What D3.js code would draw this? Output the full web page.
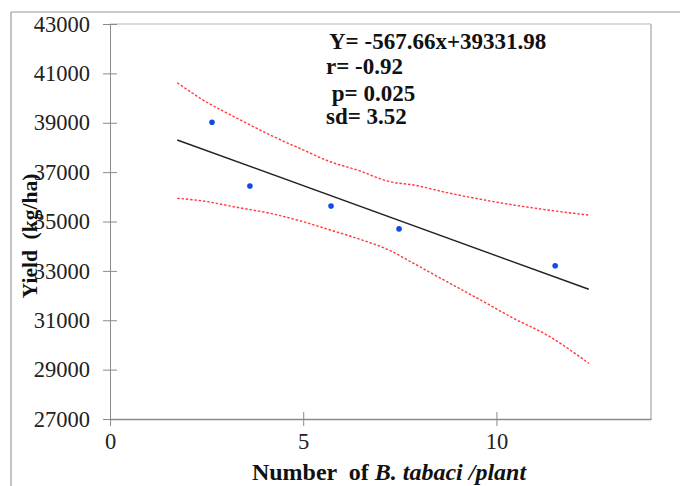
<!DOCTYPE html>
<html>
<head>
<meta charset="utf-8">
<script src="https://cdn.jsdelivr.net/npm/d3@7"></script>
<style>
  html, body { margin: 0; padding: 0; background: #fff; }
  svg { display: block; }
  text { font-family: "Liberation Serif", "Times New Roman", serif; }
</style>
</head>
<body>
<svg id="chart" width="680" height="486"></svg>
<script>
// ---- data ----
const pointX = [2.64, 3.62, 5.72, 7.48, 11.52];
const pointY = [39020, 36440, 35630, 34700, 33210];

const fitX = [1.74, 12.39];
const fitY = [38300, 32255];

const bandX     = [1.74, 2.41, 3.28, 4.15, 5.00, 5.70, 6.39, 7.25, 7.85, 8.72, 9.59, 10.44, 11.31, 12.39];
const upperY    = [40620, 39920, 39190, 38500, 37900, 37420, 37090, 36610, 36480, 36170, 35900, 35670, 35470, 35260];
const lowerY    = [35940, 35830, 35575, 35330, 34990, 34655, 34320, 33820, 33310, 32560, 31820, 31080, 30400, 29255];

const xTicks = [0, 5, 10];
const yTicks = [27000, 29000, 31000, 33000, 35000, 37000, 39000, 41000, 43000];

const annotations = ["Y= -567.66x+39331.98", "r= -0.92", " p= 0.025", "sd= 3.52"];

// ---- layout ----
const svg = d3.select("#chart");
const L = 110, T = 24, R = 651, B = 419;

const x = d3.scaleLinear().domain([0, 14]).range([L, R]);
const y = d3.scaleLinear().domain([27000, 43000]).range([B, T]);

// outer frame
svg.append("line").attr("x1", 11).attr("x2", 11).attr("y1", 12).attr("y2", 486)
  .attr("stroke", "#9a9a9a").attr("stroke-width", 1.2);
svg.append("line").attr("x1", 11).attr("x2", 680).attr("y1", 12).attr("y2", 12)
  .attr("stroke", "#9a9a9a").attr("stroke-width", 1.2);

// plot area border (top & right)
svg.append("line").attr("x1", L).attr("x2", R).attr("y1", T).attr("y2", T)
  .attr("stroke", "#b5b5b5").attr("stroke-width", 1);
svg.append("line").attr("x1", R).attr("x2", R).attr("y1", T).attr("y2", B)
  .attr("stroke", "#c8c8c8").attr("stroke-width", 2);

// y axis
const yAxis = d3.axisLeft(y).tickValues(yTicks).tickFormat(d3.format("d"))
  .tickSizeInner(7).tickSizeOuter(0).tickPadding(13);
const gy = svg.append("g").attr("transform", `translate(${L},0)`).call(yAxis);
gy.select(".domain").attr("stroke", "#8a8a8a");
gy.selectAll(".tick line").attr("stroke", "#8a8a8a").attr("x1", 7);
gy.selectAll(".tick text").attr("font-size", 22.5).attr("fill", "#222")
  .attr("font-family", "Liberation Serif, serif");

// x axis
const xAxis = d3.axisBottom(x).tickValues(xTicks).tickFormat(d3.format("d"))
  .tickSizeInner(7).tickSizeOuter(0).tickPadding(7);
const gx = svg.append("g").attr("transform", `translate(0,${B})`).call(xAxis);
gx.select(".domain").attr("stroke", "#8a8a8a").attr("stroke-width", 1.3);
gx.selectAll(".tick line").attr("stroke", "#8a8a8a").attr("y1", -7);
gx.selectAll(".tick text").attr("font-size", 22.5).attr("fill", "#222")
  .attr("font-family", "Liberation Serif, serif");

// confidence bands
const band = d3.line().x(d => x(d[0])).y(d => y(d[1])).curve(d3.curveMonotoneX);
[upperY, lowerY].forEach(arr => {
  svg.append("path")
    .datum(bandX.map((v, i) => [v, arr[i]]))
    .attr("d", band)
    .attr("fill", "none")
    .attr("stroke", "#ff3b3b")
    .attr("stroke-width", 1.4)
    .attr("stroke-dasharray", "2.5,1.8");
});

// regression line
svg.append("line")
  .attr("x1", x(fitX[0])).attr("y1", y(fitY[0]))
  .attr("x2", x(fitX[1])).attr("y2", y(fitY[1]))
  .attr("stroke", "#222").attr("stroke-width", 1.4);

// points
svg.selectAll("circle.pt").data(pointX.map((v, i) => [v, pointY[i]]))
  .enter().append("circle")
  .attr("class", "pt")
  .attr("cx", d => x(d[0])).attr("cy", d => y(d[1]))
  .attr("r", 2.8).attr("fill", "#1249e6");

// annotations
const annX = [329, 326, 326, 326];
const annY = [48.5, 74, 101, 123.5];
annotations.forEach((t, i) => {
  svg.append("text")
    .attr("x", annX[i]).attr("y", annY[i])
    .attr("font-size", 23).attr("font-weight", "bold").attr("fill", "#111")
    .attr("xml:space", "preserve")
    .style("white-space", "pre")
    .text(t);
});

// axis titles
const xt = svg.append("text")
  .attr("x", 389).attr("y", 480)
  .attr("text-anchor", "middle")
  .attr("font-size", 24).attr("font-weight", "bold").attr("fill", "#111")
  .attr("xml:space", "preserve")
  .style("white-space", "pre");
xt.append("tspan").text("Number  of ");
xt.append("tspan").attr("font-style", "italic").text("B. tabaci /plant");

svg.append("text")
  .attr("transform", "translate(37,236) rotate(-90)")
  .attr("text-anchor", "middle")
  .attr("font-size", 21.5).attr("font-weight", "bold").attr("fill", "#111")
  .attr("xml:space", "preserve")
  .style("white-space", "pre")
  .text("Yield  (kg/ha)");
</script>
</body>
</html>
